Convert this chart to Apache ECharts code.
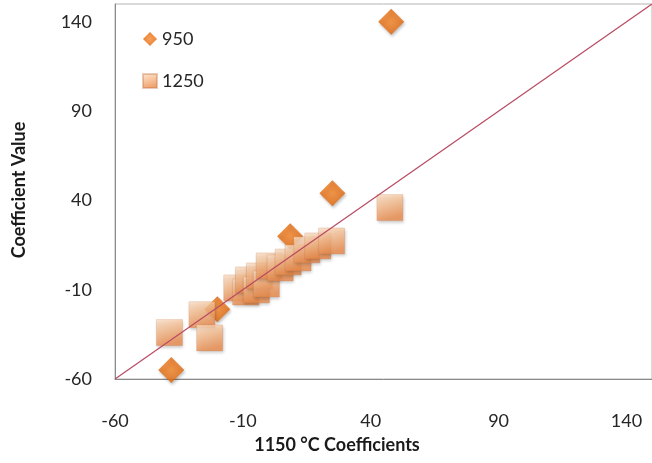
<!DOCTYPE html>
<html>
<head>
<meta charset="utf-8">
<script src="https://cdn.jsdelivr.net/npm/echarts@6/dist/echarts.min.js"></script>
<style>
  html, body { margin: 0; padding: 0; background: #ffffff; }
  #chart { width: 652px; height: 463px; }
</style>
</head>
<body>
<div id="chart"></div>
<script>
// Axis range and tick labels (both axes share the same scale)
const axisMin = -60;
const axisMax = 150;
const axisStep = 50;
const tickLabels = ['-60', '-10', '40', '90', '140'];

// Series 950 (diamonds): x = 1150 °C coefficient, y = 950 °C coefficient
const s950X = [48, 25, -38, 8.5, -20];
const s950Y = [140, 44, -55, 20, -21];

// Series 1250 (squares): x = 1150 °C coefficient, y = 1250 °C coefficient
const s1250X = [47.5, -38.7, -26, -23, -12.4, -8.9, -7.8, -4.7, -3.5, -0.8, 0.3, 4.6, 7.7, 11.6, 15.0, 19.3, 24.7];
const s1250Y = [36, -34, -24, -37, -9.0, -11.3, -4.5, -10.1, -2.3, -6.8, 3.3, 2.2, 5.5, 7.8, 12.3, 14.5, 17.3];

// Reference line y = x across the axis range
const identityX = [-60, 150];
const identityY = [-60, 150];

const zip = (xs, ys) => xs.map((x, i) => [x, ys[i]]);

const font = 'Lato, "Open Sans", sans-serif';

const diamondFill = {
  type: 'radial', x: 0.5, y: 0.5, r: 0.6,
  colorStops: [
    { offset: 0, color: '#f7882a' },
    { offset: 0.6, color: '#e86f12' },
    { offset: 1, color: '#c4580a' }
  ]
};
const squareFill = {
  type: 'linear', x: 0, y: 0, x2: 0.3, y2: 1,
  colorStops: [
    { offset: 0, color: '#fce3cd' },
    { offset: 0.45, color: '#f7bd8e' },
    { offset: 1, color: '#eb8a4a' }
  ]
};

const chart = echarts.init(document.getElementById('chart'), null, { renderer: 'canvas' });

const axisCommon = {
  type: 'value',
  min: axisMin,
  max: axisMax,
  interval: axisStep,
  splitLine: { show: false },
  axisTick: { show: false },
  axisLine: { show: true, onZero: false, lineStyle: { color: '#8a8a8a', width: 1 } },
  axisLabel: {
    showMaxLabel: false,
    color: '#262626',
    fontSize: 18,
    fontFamily: font,
    formatter: v => tickLabels.includes(String(v)) ? String(v) : ''
  }
};

chart.setOption({
  animation: false,
  backgroundColor: '#ffffff',
  grid: {
    left: 115, top: 4, width: 543, height: 375,
    show: true, borderColor: '#b4b4b4', borderWidth: 1, backgroundColor: 'transparent'
  },
  xAxis: Object.assign({}, axisCommon, {
    axisLabel: Object.assign({}, axisCommon.axisLabel, { margin: 33 })
  }),
  yAxis: Object.assign({}, axisCommon, {
    axisLabel: Object.assign({}, axisCommon.axisLabel, { margin: 23 })
  }),
  legend: {
    orient: 'vertical',
    left: 137, top: 24,
    itemWidth: 14, itemHeight: 14, itemGap: 22,
    textStyle: { fontSize: 18, fontFamily: font, color: '#262626', lineHeight: 20 },
    data: [
      { name: '950', icon: 'diamond' },
      { name: '1250', icon: 'rect' }
    ]
  },
  graphic: [
    {
      type: 'text', x: 337, y: 445,
      style: {
        text: '1150 °C Coefficients', fill: '#1a1a1a',
        font: 'bold 18px ' + font, align: 'center', verticalAlign: 'middle'
      }
    },
    {
      type: 'text', x: 19, y: 190, rotation: Math.PI / 2,
      style: {
        text: 'Coefficient Value', fill: '#1a1a1a',
        font: 'bold 18px ' + font, align: 'center', verticalAlign: 'middle'
      }
    }
  ],
  series: [
    {
      name: '950', type: 'scatter', symbol: 'diamond', symbolSize: 26, z: 2,
      data: zip(s950X, s950Y),
      itemStyle: {
        color: diamondFill,
        shadowColor: 'rgba(0,0,0,0.3)', shadowBlur: 3, shadowOffsetX: 1, shadowOffsetY: 2
      }
    },
    {
      name: '1250', type: 'scatter', symbol: 'rect', symbolSize: 26, z: 3,
      data: zip(s1250X, s1250Y),
      itemStyle: {
        color: squareFill,
        borderColor: 'rgba(190,110,60,0.45)', borderWidth: 0.6,
        shadowColor: 'rgba(0,0,0,0.25)', shadowBlur: 3, shadowOffsetX: 1, shadowOffsetY: 2
      }
    },
    {
      name: 'y = x', type: 'line', z: 4, symbol: 'none', silent: true,
      data: zip(identityX, identityY),
      lineStyle: { color: '#b84a62', width: 1.2 }
    }
  ]
});
</script>
</body>
</html>
